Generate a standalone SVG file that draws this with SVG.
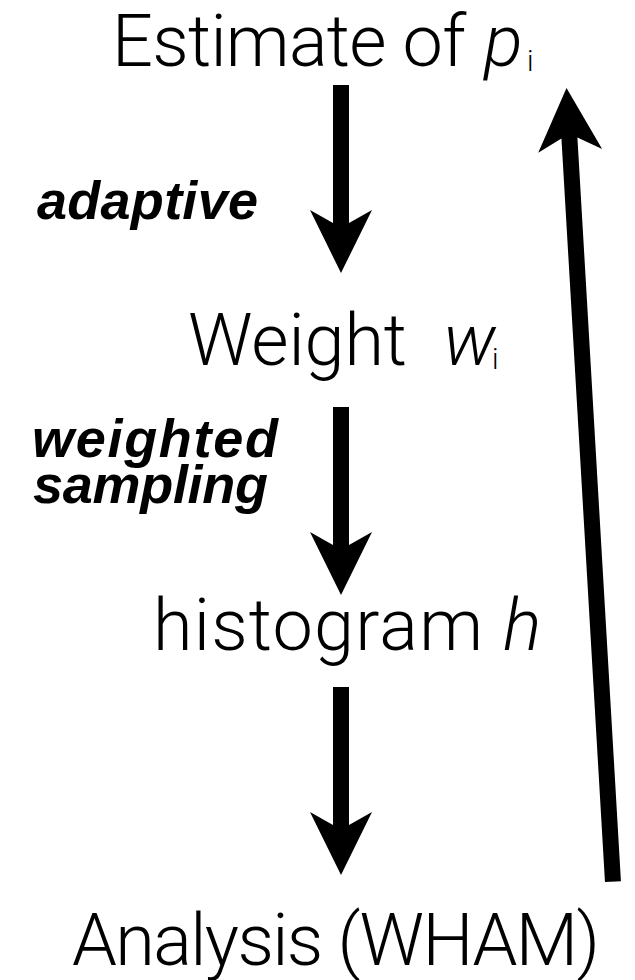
<svg xmlns="http://www.w3.org/2000/svg" width="635" height="980" viewBox="0 0 635 980">
  <style>
    .lbl { font-family: Roboto, "Liberation Sans", Arial, sans-serif; font-weight: 300; font-size: 72px; fill: #000; }
    .var { font-style: italic; }
    .sub { font-family: Roboto, "Liberation Sans", Arial, sans-serif; font-weight: 300; font-size: 29px; fill: #000; }
    .note { font-family: "Liberation Sans", Arial, sans-serif; font-weight: bold; font-style: italic; font-size: 54px; fill: #000; }
    .arrow { fill: #000; }
  </style>
  <defs>
    <!-- block arrow pointing down; tip at (0,0) local, shaft runs upward -->
    <path id="down" d="M-8,-188 H8 V-50 L31,-63 L0,0 L-31,-63 L-8,-50 Z"/>
  </defs>

  <rect width="635" height="980" fill="#fff"/>

  <g id="estimate">
    <text class="lbl" x="112" y="66" textLength="354" lengthAdjust="spacing">Estimate of</text>
    <text class="lbl var" x="484" y="66">p</text>
    <text class="sub" x="527" y="71">i</text>
  </g>

  <g id="weight">
    <text class="lbl" x="188" y="365" textLength="219" lengthAdjust="spacing">Weight</text>
    <text class="lbl var" x="443" y="365">w</text>
    <text class="sub" x="492" y="369">i</text>
  </g>

  <g id="histogram">
    <text class="lbl" x="153" y="650" textLength="330" lengthAdjust="spacing">histogram</text>
    <text class="lbl var" x="503" y="650">h</text>
  </g>

  <g id="analysis">
    <text class="lbl" x="72" y="965" textLength="528" lengthAdjust="spacing">Analysis (WHAM)</text>
  </g>

  <g id="notes">
    <text class="note" x="37" y="219" textLength="221" lengthAdjust="spacing">adaptive</text>
    <text class="note" x="32" y="457" textLength="246" lengthAdjust="spacing">weighted</text>
    <text class="note" x="33" y="503" textLength="235" lengthAdjust="spacing">sampling</text>
  </g>

  <g id="connectors" class="arrow">
    <use href="#down" x="341" y="273"/>
    <use href="#down" x="341" y="595"/>
    <use href="#down" x="341" y="875"/>
    <!-- return arrow from analysis back up to the estimate -->
    <path transform="translate(566.5,88) rotate(-3.35)" d="M0,0 L32,63 L8,50 V795 H-8 V50 L-32,63 Z"/>
  </g>
</svg>
